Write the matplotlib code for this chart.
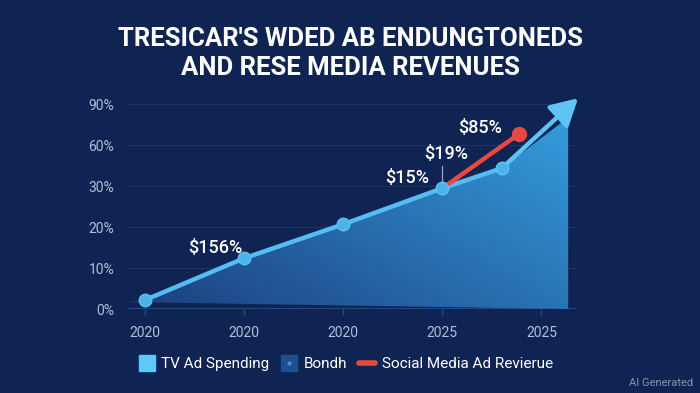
import numpy as np
import matplotlib
matplotlib.use("Agg")
import matplotlib.pyplot as plt
from matplotlib.patches import Polygon, FancyArrowPatch
from matplotlib.lines import Line2D

# Data (y values are positions on the evenly spaced, non-linear % scale)
x_labels = ["2020", "2020", "2020", "2025", "2025"]
y_labels = ["0%", "10%", "20%", "30%", "60%", "90%"]
tv_x = [0, 1, 2, 3, 3.6]
tv_y = [0.22, 1.24, 2.07, 2.95, 3.44]
arrow_tip = (4.37, 5.15)
social_x = [3, 3.77]
social_y = [2.95, 4.27]
notes = ["$156%", "$15%", "$19%", "$85%"]
note_pos = [(0.71, 1.5), (2.65, 3.2), (3.04, 3.78), (3.38, 4.42)]

bg = "#0f2453"
plt.rcParams["font.family"] = ["Roboto", "DejaVu Sans"]

fig = plt.figure(figsize=(7, 3.93), dpi=100, facecolor=bg)
ax = fig.add_axes([0.183, 0.2137, 0.64, 0.552])
ax.set_facecolor(bg)
ax.set_xlim(-0.17, 4.35)
ax.set_ylim(0, 5.3)

# grid
for i in range(1, len(y_labels)):
    ax.axhline(i, color="#1c3465", lw=0.8, zorder=0)
ax.axhline(0, color="#1f4a8a", lw=1.5, zorder=1)

# gradient fill under the line
fill_x = [-0.17] + tv_x + [4.27, 4.27]
fill_y = [0.17] + tv_y + [4.68, 0]
poly = Polygon(list(zip(fill_x, fill_y)), closed=True, facecolor="none", edgecolor="none")
ax.add_patch(poly)
gx, gy = np.meshgrid(np.linspace(0, 1, 200), np.linspace(0, 1, 200))
t = np.clip(0.6 * gx + 0.5 * gy, 0, 1)
c0 = np.array([0x1c, 0x3e, 0x7e]) / 255
c1 = np.array([0x33, 0x98, 0xd8]) / 255
img = c0 + (c1 - c0) * t[..., None]
im = ax.imshow(img, extent=[-0.17, 4.27, 0, 5.2], origin="lower", aspect="auto", zorder=1)
im.set_clip_path(poly)

# main line + arrow
ax.plot(tv_x, tv_y, color="#55bdf3", lw=3.2, solid_capstyle="round", zorder=3)
arr = FancyArrowPatch((tv_x[-1], tv_y[-1]), arrow_tip,
                      arrowstyle="-|>,head_length=0.9,head_width=0.5", mutation_scale=18,
                      color="#5fc3f5", lw=3.2, shrinkA=0, shrinkB=0, zorder=4, clip_on=False)
ax.add_patch(arr)
ax.plot(tv_x, tv_y, "o", color="#4bb2ea", markersize=9, markeredgecolor="#5cc2f5", zorder=5)

# social media line
ax.plot(social_x, social_y, color="#e8483f", lw=3.2, solid_capstyle="round", zorder=4)
ax.plot(social_x[-1], social_y[-1], "o", color="#e8483f", markersize=10, zorder=5)

# small marker line
ax.plot([3, 3], [2.95, 3.5], color="#9aa8c4", lw=0.9, zorder=2)

for txt, (px, py) in zip(notes, note_pos):
    ax.text(px, py, txt, color="white", fontsize=13, fontweight="medium",
            ha="center", va="center", zorder=6)

ax.set_xticks(range(len(x_labels)))
ax.set_xticklabels(x_labels)
ax.set_yticks(range(len(y_labels)))
ax.set_yticklabels(y_labels)
ax.tick_params(axis="x", colors="#2a4a80", length=4, width=1, pad=8, labelcolor="#b3bfd8", labelsize=10)
ax.tick_params(axis="y", length=0, pad=10, labelcolor="#b3bfd8", labelsize=10)
for s in ax.spines.values():
    s.set_visible(False)

fig.text(0.5, 0.9, "TRESICAR'S WDED AB ENDUNGTONEDS", color="white", fontsize=18.5,
         fontweight="bold", ha="center", va="center")
fig.text(0.5, 0.827, "AND RESE MEDIA REVENUES", color="white", fontsize=18.5,
         fontweight="bold", ha="center", va="center")

handles = [Line2D([], [], marker="s", lw=0, markerfacecolor="#5ec8f8", markeredgecolor="#5ec8f8",
                  markersize=12),
           (Line2D([], [], marker="s", lw=0, markerfacecolor="#1e4f8e", markeredgecolor="#1e4f8e",
                   markersize=12),
            Line2D([], [], marker="o", lw=0, markerfacecolor="#4a8ccc", markeredgecolor="none",
                   markersize=3)),
           Line2D([], [], color="#e8483f", lw=4, solid_capstyle="round")]
fig.legend(handles, ["TV Ad Spending", "Bondh", "Social Media Ad Revierue"], loc="center",
           bbox_to_anchor=(0.494, 0.074), ncol=3, frameon=False, fontsize=11, labelcolor="white",
           handlelength=1.0, handletextpad=0.45, columnspacing=0.8)

fig.text(0.99, 0.025, "AI Generated", color="#8a93a8", fontsize=8, ha="right", va="center")

fig.savefig("out.png", dpi=100, facecolor=bg)
